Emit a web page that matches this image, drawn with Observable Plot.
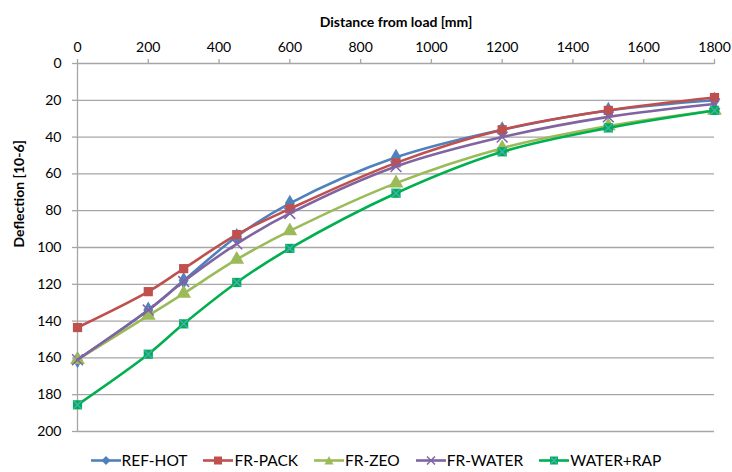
<!DOCTYPE html>
<html>
<head>
<meta charset="utf-8">
<script src="https://cdn.jsdelivr.net/npm/d3@7"></script>
<script src="https://cdn.jsdelivr.net/npm/@observablehq/plot@0.6"></script>
<style>
  html, body { margin: 0; padding: 0; background: #fff; }
  body { width: 732px; height: 472px; overflow: hidden; font-family: Lato, "Open Sans", sans-serif; }
  #legend { display: flex; justify-content: center; gap: 16px; margin-top: 6px; font-size: 15.5px; color: #000; padding-left: 20px; }
  #legend .item { display: flex; align-items: center; gap: 1px; }
</style>
</head>
<body>
<div id="chart"></div>
<div id="legend"></div>
<script>
const distances = [0, 200, 300, 450, 600, 900, 1200, 1500, 1800];
const seriesNames = ["REF-HOT", "FR-PACK", "FR-ZEO", "FR-WATER", "WATER+RAP"];
const refHot   = [161, 134, 118, 94, 76, 51, 36, 25.5, 20];
const frPack   = [143.5, 124, 111.5, 93, 79, 54, 36, 25.5, 18.5];
const frZeo    = [161, 137, 125, 106.5, 91, 65, 46, 34, 25.5];
const frWater  = [161, 134, 118.5, 98, 81.5, 56, 40, 29, 22];
const waterRap = [185.5, 158, 141.5, 119, 100.5, 70.5, 48, 35, 25.5];
const xTicks = [0, 200, 400, 600, 800, 1000, 1200, 1400, 1600, 1800];
const yTicks = [0, 20, 40, 60, 80, 100, 120, 140, 160, 180, 200];
const colors = ["#4F81BD", "#C0504D", "#9BBB59", "#8064A2", "#00B050"];
const symbols = ["diamond", "square", "triangle", "times", "square"];

const allValues = [refHot, frPack, frZeo, frWater, waterRap];
const data = [];
seriesNames.forEach((s, i) => distances.forEach((d, j) => data.push({series: s, x: d, y: allValues[i][j]})));

const gridColor = "#A6A6A6";
const marks = [
  Plot.ruleY(yTicks.slice(1), {stroke: gridColor, strokeWidth: 1.3}),
  Plot.ruleY([0], {stroke: gridColor, strokeWidth: 1.3}),
  Plot.ruleX([0], {stroke: gridColor, strokeWidth: 1.3}),
];
seriesNames.forEach((s, i) => {
  const sd = data.filter(d => d.series === s);
  marks.push(Plot.line(sd, {x: "x", y: "y", stroke: colors[i], strokeWidth: 2.6, curve: "catmull-rom"}));
  if (symbols[i] === "times") {
    marks.push(Plot.dot(sd, {x: "x", y: "y", symbol: "times", r: 5, stroke: colors[i], strokeWidth: 1.5}));
  } else {
    marks.push(Plot.dot(sd, {x: "x", y: "y", symbol: symbols[i], r: symbols[i] === "triangle" ? 5.5 : 5.2, fill: colors[i], stroke: "none"}));
  }
  if (s === "WATER+RAP") {
    marks.push(Plot.dot(sd, {x: "x", y: "y", symbol: "times", r: 4, stroke: "#4BACC6", strokeWidth: 1.2}));
  }
});
marks.push(Plot.axisX(xTicks, {anchor: "top", tickSize: 5, stroke: gridColor, strokeWidth: 1.3, tickPadding: 7, fontSize: 14, fill: "#000", label: null, tickFormat: d => String(d)}));
marks.push(Plot.axisY(yTicks, {anchor: "left", tickSize: 5, stroke: gridColor, strokeWidth: 1.3, tickPadding: 11, fontSize: 14, fill: "#000", label: null, tickFormat: d => String(d)}));
marks.push(Plot.text(["Distance from load [mm]"], {frameAnchor: "top", dy: -46, fontSize: 14, fontWeight: "bold", fill: "#000"}));
marks.push(Plot.text(["Deflection [10-6]"], {frameAnchor: "left", dx: -58, rotate: -90, fontSize: 14, fontWeight: "bold", fill: "#000"}));

const chart = Plot.plot({
  width: 732,
  height: 445,
  marginTop: 63,
  marginLeft: 77,
  marginRight: 18,
  marginBottom: 14,
  style: {fontFamily: "Lato, 'Open Sans', sans-serif", background: "#fff", overflow: "visible"},
  x: {type: "linear", domain: [0, 1800], axis: null},
  y: {type: "linear", domain: [0, 200], reverse: true, axis: null},
  marks
});
document.getElementById("chart").appendChild(chart);

const legend = document.getElementById("legend");
seriesNames.forEach((s, i) => {
  const item = document.createElement("div");
  item.className = "item";
  let marker = "";
  const c = colors[i];
  if (symbols[i] === "diamond") marker = `<path d="M15,2 L19.5,6.5 L15,11 L10.5,6.5Z" fill="${c}"/>`;
  else if (symbols[i] === "square") marker = `<rect x="11" y="2.5" width="8" height="8" fill="${c}"/>`;
  else if (symbols[i] === "triangle") marker = `<path d="M15,2 L19.5,10.5 L10.5,10.5Z" fill="${c}"/>`;
  else marker = `<path d="M11,2.5 L19,10.5 M19,2.5 L11,10.5" stroke="${c}" stroke-width="1.5"/>`;
  if (s === "WATER+RAP") marker += `<path d="M12,3.5 L18,9.5 M18,3.5 L12,9.5" stroke="#4BACC6" stroke-width="1.2"/>`;
  item.innerHTML = `<svg width="30" height="13"><line x1="0" y1="6.5" x2="30" y2="6.5" stroke="${c}" stroke-width="2.6"/>${marker}</svg><span>${s}</span>`;
  legend.appendChild(item);
});
</script>
</body>
</html>
